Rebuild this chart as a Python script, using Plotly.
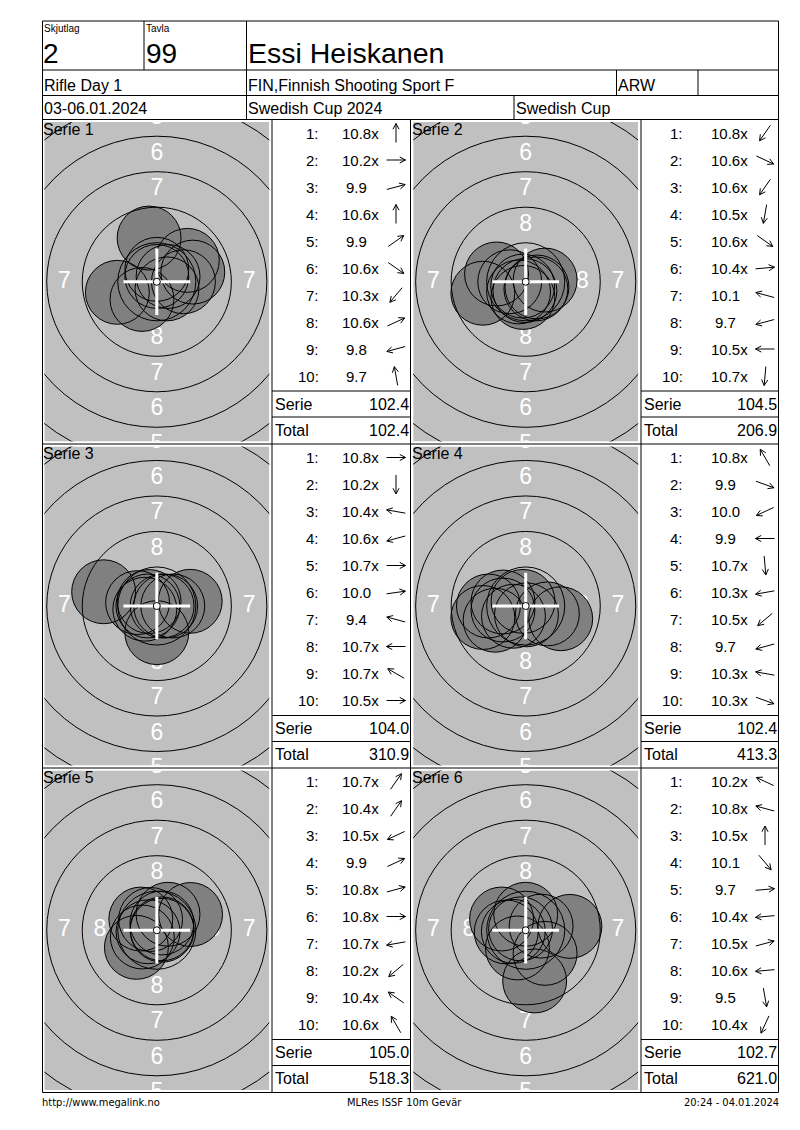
import plotly.graph_objects as go
import numpy as np

# header info
relay = "2"
lane = "99"
shooter = "Essi Heiskanen"
match_name = "Rifle Day 1"
club = "FIN,Finnish Shooting Sport F"
shooter_class = "ARW"
dates = "03-06.01.2024"
competition = "Swedish Cup 2024"
cup = "Swedish Cup"
footer_left = "http://www.megalink.no"
footer_mid = "MLRes ISSF 10m Gevär"
footer_right = "20:24 - 04.01.2024"

series_names = ["Serie 1", "Serie 2", "Serie 3", "Serie 4", "Serie 5", "Serie 6"]

# shot values and arrow direction (degrees, 0 = right, 90 = up)
scores_1 = [10.8, 10.2, 9.9, 10.6, 9.9, 10.6, 10.3, 10.6, 9.8, 9.7]
dirs_1 = [90, 0, 15, 90, 35, -35, 230, 25, 195, 100]
scores_2 = [10.8, 10.6, 10.6, 10.5, 10.6, 10.4, 10.1, 9.7, 10.5, 10.7]
dirs_2 = [235, -25, 235, 260, -35, 5, 165, 195, 180, 265]
scores_3 = [10.8, 10.2, 10.4, 10.6, 10.7, 10.0, 9.4, 10.7, 10.7, 10.5]
dirs_3 = [0, 270, 170, 195, 0, 8, 165, 180, 150, 0]
scores_4 = [10.8, 9.9, 10.0, 9.9, 10.7, 10.3, 10.5, 9.7, 10.3, 10.3]
dirs_4 = [120, -20, 205, 180, 275, 190, 220, 195, 170, -20]
scores_5 = [10.7, 10.4, 10.5, 9.9, 10.8, 10.8, 10.7, 10.2, 10.4, 10.6]
dirs_5 = [55, 55, 205, 25, 15, 0, 190, 220, 145, 120]
scores_6 = [10.2, 10.8, 10.5, 10.1, 9.7, 10.4, 10.5, 10.6, 9.5, 10.4]
dirs_6 = [155, 165, 90, -50, 5, 185, 15, 185, 280, 245]

all_scores = [scores_1, scores_2, scores_3, scores_4, scores_5, scores_6]
all_dirs = [dirs_1, dirs_2, dirs_3, dirs_4, dirs_5, dirs_6]

serie_sums = ["102.4", "104.5", "104.0", "102.4", "105.0", "102.7"]
totals = ["102.4", "206.9", "310.9", "413.3", "518.3", "621.0"]

# target geometry (mm)
ring_radius = [2.75, 5.25, 7.75, 10.25, 12.75, 15.25]
label_values = ["8", "7", "6", "5"]
label_radius = [4.0, 6.5, 9.0, 11.5]
label_sides = [True, True, True, False]  # False: only top and bottom
pellet_r = 2.25

W, H = 800, 1130
S = 14.2  # px per mm
FONT = "Liberation Sans, Arial, sans-serif"
NARROW = "Liberation Sans Narrow, DejaVu Sans Condensed, Liberation Sans, Arial"

def dist_mm(score):
    return (10.95 - score) * 2.5

fig = go.Figure()

# page axis in pixels
fig.update_layout(
    xaxis=dict(domain=[0, 1], range=[0, W], visible=False, fixedrange=True),
    yaxis=dict(domain=[0, 1], range=[H, 0], visible=False, fixedrange=True),
)

L, R, T, B = 42.5, 778.5, 21, 1092.5
row_tops = [119.5, 444, 768]
row_bots = [444, 768, 1092.5]
gray_x = [(44.3, 269.3), (413.2, 638.2)]
score_cols = [(272, 410.5), (641, 778.5)]

shapes = []
annos = []

def line(x0, y0, x1, y1):
    shapes.append(dict(type="line", xref="x", yref="y", x0=x0, y0=y0, x1=x1, y1=y1,
                       line=dict(color="black", width=1), layer="above"))

def text(x, y, s, size, anchor="left", family=FONT):
    annos.append(dict(x=x, y=y, xref="x", yref="y", text=s, showarrow=False,
                      xanchor=anchor, yanchor="middle", borderpad=0, borderwidth=0,
                      font=dict(family=family, size=size, color="black")))

# outer frame and header grid
line(L, T, R, T)
line(L, B, R, B)
line(L, T, L, B)
line(R, T, R, B)
for y in [70, 95.5, 119.5, 444, 768]:
    line(L, y, R, y)
line(144, T, 144, 70)
line(246.5, T, 246.5, 119.5)
line(616.5, 70, 616.5, 95.5)
line(698, 70, 698, 95.5)
line(514, 95.5, 514, 119.5)
for xs in [272, 410.5, 641]:
    line(xs, 119.5, xs, B)

text(44, 28, "Skjutlag", 10)
text(146, 28, "Tavla", 10)
text(43, 53, relay, 28)
text(146, 53, lane, 28)
text(248, 53, shooter, 28.5)
text(44, 85, match_name, 16)
text(248, 85, club, 16)
text(618, 85, shooter_class, 16)
text(44, 108.5, dates, 16)
text(248, 108.5, competition, 16)
text(516, 108.5, cup, 16)
text(42, 1102, footer_left, 11, family=NARROW)
text(404, 1102, footer_mid, 11, anchor="center", family=NARROW)
text(779, 1102, footer_right, 11, anchor="right", family=NARROW)

arrow_x, arrow_y = [], []
for k in range(6):
    r, c = k // 2, k % 2
    top, bot = row_tops[r], row_bots[r]
    cl, cr = score_cols[c]
    line(cl, top + 271.5, cr, top + 271.5)
    line(cl, top + 297.5, cr, top + 297.5)
    text(cl + 3, top + 284.5, "Serie", 16)
    text(cr - 2, top + 284.5, serie_sums[k], 16, anchor="right")
    text(cl + 3, top + 310.5, "Total", 16)
    text(cr - 2, top + 310.5, totals[k], 16, anchor="right")
    lab_x = cl + (46.5 if c == 0 else 42)
    num_x = cl + 70
    for i, (sc, ang) in enumerate(zip(all_scores[k], all_dirs[k])):
        y = top + 13.5 + 27 * i
        text(lab_x, y, f"{i + 1}:", 15, anchor="right")
        if sc >= 10.2:
            text(num_x, y, f"{sc:.1f}x", 15)
        else:
            text(num_x + 14.6, y, f"{sc:.1f}", 15, anchor="center")
        # direction arrow
        a = np.radians(ang)
        ux, uy = np.cos(a), -np.sin(a)
        cx = cl + 124
        hx, hy = cx + 9.5 * ux, y + 9.5 * uy
        arrow_x += [cx - 9.5 * ux, hx, None]
        arrow_y += [y - 9.5 * uy, hy, None]
        for w in (np.radians(28), -np.radians(28)):
            bx = -(ux * np.cos(w) - uy * np.sin(w))
            by = -(ux * np.sin(w) + uy * np.cos(w))
            arrow_x += [hx, hx + 6.5 * bx, None]
            arrow_y += [hy, hy + 6.5 * by, None]

fig.add_trace(go.Scatter(x=arrow_x, y=arrow_y, mode="lines", xaxis="x", yaxis="y",
                         line=dict(color="black", width=1), hoverinfo="skip", showlegend=False))

# targets
for k in range(6):
    r, c = k // 2, k % 2
    top, bot = row_tops[r], row_bots[r]
    gx0, gx1 = gray_x[c]
    gy0, gy1 = top + 2.5, bot - 2.5
    hw = (gx1 - gx0) / 2 / S
    hh = (gy1 - gy0) / 2 / S
    n = k + 2
    xa, ya = f"x{n}", f"y{n}"
    fig.update_layout({
        f"xaxis{n}": dict(domain=[gx0 / W, gx1 / W], range=[-hw, hw], visible=False,
                          fixedrange=True, anchor=ya),
        f"yaxis{n}": dict(domain=[1 - gy1 / H, 1 - gy0 / H], range=[-hh, hh], visible=False,
                          fixedrange=True, anchor=xa),
    })
    shapes.append(dict(type="rect", xref=xa, yref=ya,
                       x0=-hw, x1=hw, y0=-hh, y1=hh, fillcolor="#c0c0c0",
                       line=dict(width=0), layer="below"))
    for rr in ring_radius:
        shapes.append(dict(type="circle", xref=xa, yref=ya, x0=-rr, x1=rr, y0=-rr, y1=rr,
                           line=dict(color="black", width=1), layer="above"))
    lx, ly, lt = [], [], []
    for v, rad, sides in zip(label_values, label_radius, label_sides):
        lx += [0, 0]
        ly += [rad, -rad]
        lt += [v, v]
        if sides:
            lx += [-rad, rad]
            ly += [0, 0]
            lt += [v, v]
    fig.add_trace(go.Scatter(x=lx, y=ly, text=lt, mode="text", xaxis=xa, yaxis=ya,
                             textfont=dict(family=FONT, size=23, color="white"),
                             hoverinfo="skip", showlegend=False, cliponaxis=True))
    d = np.array([dist_mm(s) for s in all_scores[k]])
    ang = np.radians(all_dirs[k])
    sx, sy = d * np.cos(ang), d * np.sin(ang)
    size = 2 * pellet_r * S
    fig.add_trace(go.Scatter(x=sx, y=sy, mode="markers", xaxis=xa, yaxis=ya,
                             marker=dict(size=size, color="#808080", line=dict(width=0)),
                             hoverinfo="skip", showlegend=False))
    fig.add_trace(go.Scatter(x=sx, y=sy, mode="markers", xaxis=xa, yaxis=ya,
                             marker=dict(size=size, color="rgba(0,0,0,0)",
                                         line=dict(width=1, color="black")),
                             hoverinfo="skip", showlegend=False))
    fig.add_trace(go.Scatter(x=[-2.35, 2.35, None, 0, 0], y=[0, 0, None, -2.35, 2.35],
                             mode="lines", xaxis=xa, yaxis=ya,
                             line=dict(color="white", width=3),
                             hoverinfo="skip", showlegend=False))
    fig.add_trace(go.Scatter(x=[0], y=[0], mode="markers", xaxis=xa, yaxis=ya,
                             marker=dict(size=7, color="white", line=dict(width=1, color="black")),
                             hoverinfo="skip", showlegend=False))
    annos.append(dict(x=gx0 - 1.5, y=top + 9.5, xref="x", yref="y", text=series_names[k],
                      showarrow=False, xanchor="left", yanchor="middle",
                      borderpad=0, borderwidth=0,
                      font=dict(family=FONT, size=16, color="black")))

fig.update_layout(
    width=W, height=H,
    margin=dict(l=0, r=0, t=0, b=0),
    paper_bgcolor="white", plot_bgcolor="rgba(0,0,0,0)",
    shapes=shapes, annotations=annos,
    showlegend=False,
)

fig.write_html("out.html", config={"displayModeBar": False},
               post_script="document.body.style.margin='0px';")
